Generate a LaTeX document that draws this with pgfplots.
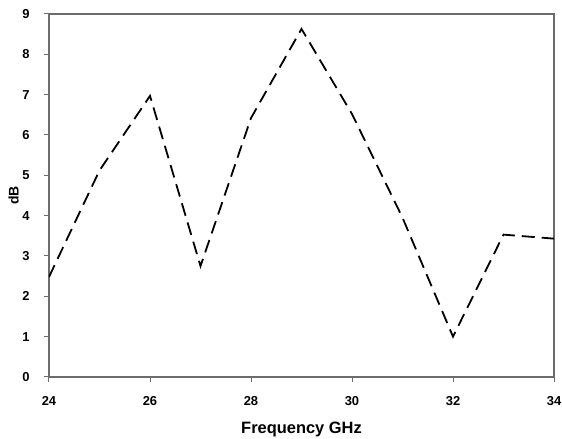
\documentclass[border=0pt]{standalone}
\usepackage{pgfplots}
\pgfplotsset{compat=1.18}
\usepackage{fontspec}
\setmainfont{Liberation Sans}
\begin{document}
\begin{tikzpicture}[x=1bp,y=1bp]
\begin{axis}[
  scale only axis,
  width=505bp, height=363bp,
  xmin=24, xmax=34, ymin=0, ymax=9,
  xtick={24,26,...,34}, ytick={0,1,...,9},
  tick align=outside,
  xtick pos=bottom, ytick pos=left,
  major tick length=5bp,
  axis line style={draw=gray!85!black, line width=1.3bp},
  every tick/.style={draw=gray!85!black, line width=1bp},
  tick label style={font=\bfseries\fontsize{13}{15}\selectfont},
  /pgf/number format/assume math mode=true,
  xticklabel style={yshift=-11bp},
  yticklabel style={xshift=-11bp},
  xlabel={\bfseries Frequency GHz},
  ylabel={\bfseries dB},
  xlabel style={font=\bfseries\fontsize{16.5}{18}\selectfont, at={(axis description cs:0.5,0)}, anchor=base, inner sep=0pt, yshift=-57bp},
  ylabel style={font=\bfseries\fontsize{14}{16}\selectfont, at={(axis description cs:-0.0594,0.5)}, anchor=south, inner sep=0pt},
]
\addplot[black, line width=1.8bp, dash pattern=on 13bp off 7bp] coordinates {
(24,2.48) (25,5.12) (26,6.97) (27,2.75) (28,6.42) (29,8.63) (30,6.52) (31,3.95) (32,1.0) (33,3.53) (34,3.43)
};
\end{axis}
\pgfresetboundingbox
\path[use as bounding box] ([shift={(-49bp,-62bp)}]current axis.south west) rectangle ([shift={(8bp,14bp)}]current axis.north east);
\end{tikzpicture}
\end{document}
